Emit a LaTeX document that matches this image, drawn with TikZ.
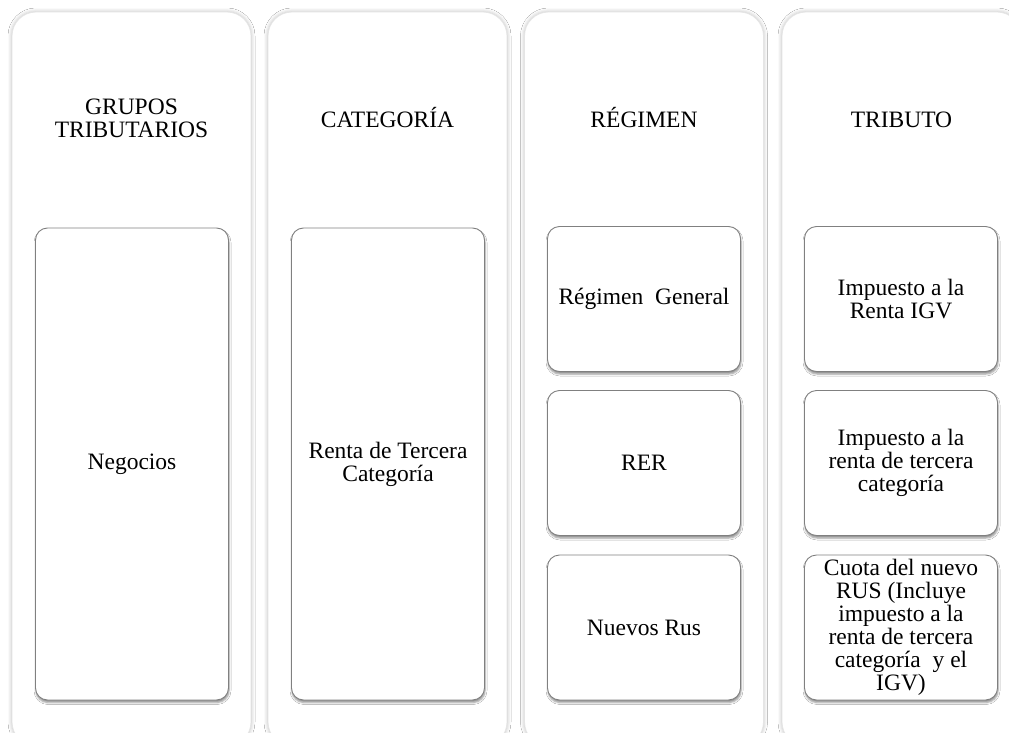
\documentclass[tikz,border=0pt]{standalone}
\usepackage{fontspec}
\setmainfont{Liberation Serif}
\usetikzlibrary{shadows.blur}

\begin{document}
\begin{tikzpicture}[x=1pt,y=-1pt,
  txt/.style={font=\fontsize{23.5}{23}\selectfont, align=center},
  column/.style={draw=black!10, line width=0.8pt, fill=white,
    rounded corners=24pt, minimum width=239pt, minimum height=734pt,
    inner sep=0pt,
    blur shadow={shadow xshift=0pt, shadow yshift=0pt,
      shadow blur radius=4pt, shadow opacity=30}},
  heading/.style={txt, text=black, anchor=base},
  item/.style={txt, draw=black!50, line width=0.9pt, fill=white,
    rounded corners=12pt, minimum width=193pt, inner sep=2pt,
    blur shadow={shadow xshift=0.5pt, shadow yshift=-2.5pt,
      shadow blur radius=2pt, shadow opacity=45}},
  tallitem/.style={item, minimum height=472pt},
  smallitem/.style={item, minimum height=145pt}]

\useasboundingbox (0,0) rectangle (1009,733);
\clip (0,0) rectangle (1009,733);
\fill[white] (0,0) rectangle (1009,733);

% four column panels
\node[column] (colA) at (131.5,379) {};
\node[column] (colB) at (387.5,379) {};
\node[column] (colC) at (644,379) {};
\node[column] (colD) at (901.5,379) {};

% column headings (placed by the baseline of their last line)
\node[heading] (hA) at (131.5,138) {GRUPOS\\TRIBUTARIOS};
\node[heading] (hB) at (387.5,128) {CATEGORÍA};
\node[heading] (hC) at (644,128) {RÉGIMEN};
\node[heading] (hD) at (901.5,128) {TRIBUTO};

% content boxes
\node[tallitem] (negocios) at (132,464) {Negocios};
\node[tallitem] (renta) at (388,464) {Renta de Tercera\\Categoría};

\node[smallitem] (general) at (644,299) {Régimen\ \ General};
\node[smallitem] (rer) at (644,463) {RER};
\node[smallitem] (rus) at (644,627.5) {Nuevos Rus};

\node[smallitem] (igv) at (901,299) {Impuesto a la\\Renta IGV};
\node[smallitem] (tercera) at (901,463) {Impuesto a la\\renta de tercera\\categoría};
\node[smallitem] (cuota) at (901,627.5) {Cuota del nuevo\\RUS (Incluye\\impuesto a la\\renta de tercera\\categoría\ \ y el\\IGV)};
\end{tikzpicture}
\end{document}
